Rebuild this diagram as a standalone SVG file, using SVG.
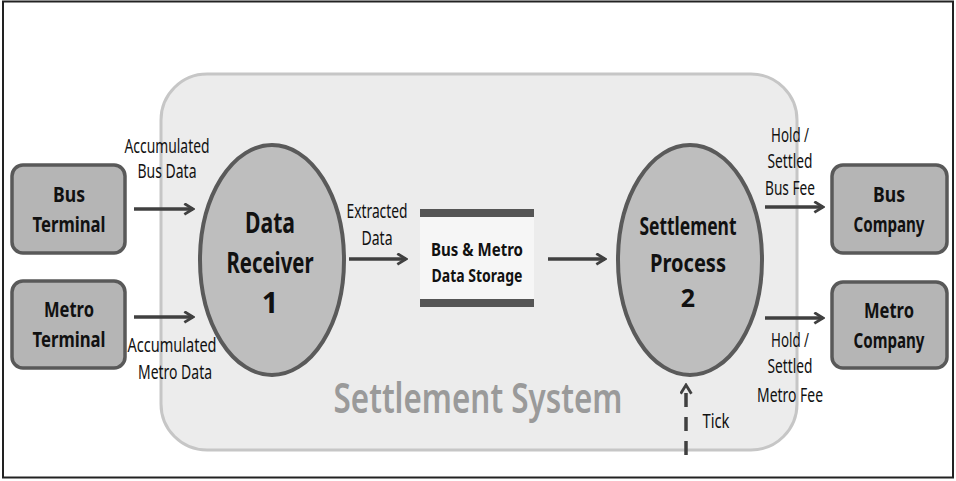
<svg xmlns="http://www.w3.org/2000/svg" width="956" height="481" viewBox="0 0 956 481">
<defs>
<marker id="ah" viewBox="0 0 12 12" refX="10" refY="6" markerWidth="13" markerHeight="13" markerUnits="userSpaceOnUse" orient="auto">
<path d="M2,1 L10,6 L2,11" fill="none" stroke="#404040" stroke-width="2.6"/>
</marker>
</defs>
<style>
.t{font-family:"Noto Sans","Liberation Sans",sans-serif;fill:#111;font-size:19px;text-anchor:middle}
.b{font-family:"Noto Sans","Liberation Sans",sans-serif;fill:#111;font-weight:bold;text-anchor:middle}
.box{fill:#b5b5b5;stroke:#595959;stroke-width:3.5}
.proc{fill:#bebebe;stroke:#5a5a5a;stroke-width:4}
.c{stroke:#404040;stroke-width:3.5;fill:none;marker-end:url(#ah)}
</style>
<rect x="0" y="0" width="956" height="481" fill="#fff"/>
<rect x="3" y="1.5" width="950" height="476" fill="none" stroke="#222" stroke-width="2"/>
<g id="settlement-system">
<rect x="161" y="74" width="636" height="376" rx="46" fill="#ececec" stroke="#c6c6c6" stroke-width="3"/>
<text x="478" y="413" font-family="Noto Sans, Liberation Sans, sans-serif" font-size="42" font-weight="600" fill="#9a9a9a" text-anchor="middle" textLength="289" lengthAdjust="spacingAndGlyphs">Settlement System</text>
</g>
<g id="bus-terminal">
<rect class="box" x="12" y="165" width="113" height="88" rx="11"/>
<text class="b" x="69" y="202" font-size="21" textLength="32" lengthAdjust="spacingAndGlyphs">Bus</text>
<text class="b" x="69" y="232" font-size="21" textLength="73" lengthAdjust="spacingAndGlyphs">Terminal</text>
</g>
<g id="metro-terminal">
<rect class="box" x="12" y="281" width="113" height="87" rx="11"/>
<text class="b" x="69" y="317" font-size="21" textLength="50" lengthAdjust="spacingAndGlyphs">Metro</text>
<text class="b" x="69" y="347" font-size="21" textLength="73" lengthAdjust="spacingAndGlyphs">Terminal</text>
</g>
<g id="data-receiver">
<ellipse class="proc" cx="272" cy="260" rx="72" ry="115"/>
<text class="b" x="270" y="233" font-size="29" textLength="50" lengthAdjust="spacingAndGlyphs">Data</text>
<text class="b" x="270" y="273" font-size="29" textLength="87" lengthAdjust="spacingAndGlyphs">Receiver</text>
<text class="b" x="270" y="313" font-size="29">1</text>
</g>
<g id="data-storage">
<rect x="420" y="217" width="114" height="82" fill="#f6f6f6"/>
<rect x="420" y="209" width="114" height="8" fill="#555"/>
<rect x="420" y="299" width="114" height="8" fill="#555"/>
<text class="b" x="477" y="256" font-size="17" textLength="92" lengthAdjust="spacingAndGlyphs">Bus &amp; Metro</text>
<text class="b" x="477" y="282" font-size="17" textLength="91" lengthAdjust="spacingAndGlyphs">Data Storage</text>
</g>
<g id="settlement-process">
<ellipse class="proc" cx="690" cy="260" rx="72" ry="115"/>
<text class="b" x="688" y="235" font-size="25" textLength="97" lengthAdjust="spacingAndGlyphs">Settlement</text>
<text class="b" x="688" y="272" font-size="25" textLength="76" lengthAdjust="spacingAndGlyphs">Process</text>
<text class="b" x="688" y="307" font-size="25">2</text>
</g>
<g id="bus-company">
<rect class="box" x="832" y="165" width="115" height="88" rx="11"/>
<text class="b" x="889" y="202" font-size="21" textLength="32" lengthAdjust="spacingAndGlyphs">Bus</text>
<text class="b" x="889" y="232" font-size="21" textLength="71" lengthAdjust="spacingAndGlyphs">Company</text>
</g>
<g id="metro-company">
<rect class="box" x="832" y="282" width="115" height="86" rx="11"/>
<text class="b" x="889" y="318" font-size="21" textLength="50" lengthAdjust="spacingAndGlyphs">Metro</text>
<text class="b" x="889" y="348" font-size="21" textLength="71" lengthAdjust="spacingAndGlyphs">Company</text>
</g>
<g id="connectors">
<line class="c" x1="134" y1="209" x2="193" y2="209"/>
<line class="c" x1="134" y1="317" x2="193" y2="317"/>
<line class="c" x1="349" y1="259" x2="406" y2="259"/>
<line class="c" x1="548" y1="259" x2="605" y2="259"/>
<line class="c" x1="765" y1="207" x2="823" y2="207"/>
<line class="c" x1="765" y1="318" x2="823" y2="318"/>
<line class="c" x1="686" y1="455" x2="686" y2="385" stroke-width="2.5" stroke-dasharray="14,10"/>
<text class="t" x="167" y="153" textLength="85" lengthAdjust="spacingAndGlyphs">Accumulated</text>
<text class="t" x="167" y="178" textLength="59" lengthAdjust="spacingAndGlyphs">Bus Data</text>
<text class="t" x="172" y="352" textLength="89" lengthAdjust="spacingAndGlyphs">Accumulated</text>
<text class="t" x="175" y="379" textLength="74" lengthAdjust="spacingAndGlyphs">Metro Data</text>
<text class="t" x="377" y="218" textLength="61" lengthAdjust="spacingAndGlyphs">Extracted</text>
<text class="t" x="377" y="245" textLength="31" lengthAdjust="spacingAndGlyphs">Data</text>
<text class="t" x="790" y="142" textLength="38" lengthAdjust="spacingAndGlyphs">Hold /</text>
<text class="t" x="790" y="168" textLength="45" lengthAdjust="spacingAndGlyphs">Settled</text>
<text class="t" x="790" y="195" textLength="50" lengthAdjust="spacingAndGlyphs">Bus Fee</text>
<text class="t" x="790" y="347" textLength="38" lengthAdjust="spacingAndGlyphs">Hold /</text>
<text class="t" x="790" y="373" textLength="45" lengthAdjust="spacingAndGlyphs">Settled</text>
<text class="t" x="790" y="402" textLength="66" lengthAdjust="spacingAndGlyphs">Metro Fee</text>
<text class="t" x="716" y="428" textLength="27" lengthAdjust="spacingAndGlyphs">Tick</text>
</g>
</svg>
